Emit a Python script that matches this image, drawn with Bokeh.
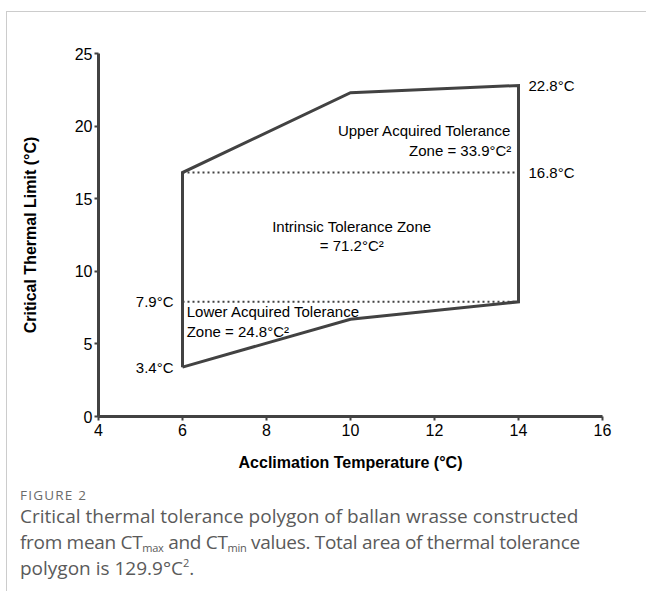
from bokeh.plotting import figure
from bokeh.models import Range1d, FixedTicker, Label, Div, ColumnDataSource
from bokeh.layouts import column
from bokeh.core.properties import value
from bokeh.embed import file_html
from bokeh.resources import INLINE

# ---- data ----
acclimation = [6, 10, 14]
ct_max = [16.8, 22.3, 22.8]
ct_min = [3.4, 6.7, 7.9]
x_ticks = [4, 6, 8, 10, 12, 14, 16]
y_ticks = [0, 5, 10, 15, 20, 25]
zone_texts = ["Upper Acquired Tolerance\nZone = 33.9°C²",
              "Intrinsic Tolerance Zone\n= 71.2°C²",
              "Lower Acquired Tolerance\nZone = 24.8°C²"]
x_title = "Acclimation Temperature (°C)"
y_title = "Critical Thermal Limit (°C)"

DARK = "#424242"
FONT = "Liberation Sans"

p = figure(width=639, height=471, output_backend="svg", toolbar_location=None,
           x_range=Range1d(4, 16), y_range=Range1d(0, 25),
           min_border_left=91, min_border_right=44, min_border_top=41, min_border_bottom=67)
p.outline_line_color = None
p.grid.visible = False
p.background_fill_color = "white"
p.border_fill_color = "white"

for ax, ticks in ((p.xaxis[0], x_ticks), (p.yaxis[0], y_ticks)):
    ax.ticker = FixedTicker(ticks=ticks)
    ax.axis_line_color = DARK
    ax.axis_line_width = 3
    ax.major_tick_line_color = DARK
    ax.major_tick_line_width = 2
    ax.major_tick_out = 4
    ax.major_tick_in = 0
    ax.minor_tick_line_color = None
    ax.major_label_text_font = FONT
    ax.major_label_text_font_size = "16px"
    ax.major_label_text_color = "black"
    ax.axis_label_text_font = FONT
    ax.axis_label_text_font_size = "16px"
    ax.axis_label_text_font_style = "bold"
    ax.axis_label_text_color = "black"

p.xaxis.axis_label = x_title
p.yaxis.axis_label = y_title
p.xaxis.major_label_standoff = 3
p.xaxis.axis_label_standoff = 15
p.yaxis.major_label_standoff = 2
p.yaxis.axis_label_standoff = 33

# polygon outline
poly_x = acclimation + acclimation[::-1] + [acclimation[0]]
poly_y = ct_min + ct_max[::-1] + [ct_min[0]]
p.line(poly_x, poly_y, line_color=DARK, line_width=3, line_join="miter")

# dotted division lines
p.line([acclimation[0], acclimation[-1]], [ct_max[0], ct_max[0]],
       line_color=DARK, line_width=2, line_dash="2 3")
p.line([acclimation[0], acclimation[-1]], [ct_min[-1], ct_min[-1]],
       line_color=DARK, line_width=2, line_dash="2 3")

# value labels
right_src = ColumnDataSource(dict(x=[acclimation[-1], acclimation[-1]],
                                  y=[ct_max[-1], ct_max[0]],
                                  t=[f"{ct_max[-1]}°C", f"{ct_max[0]}°C"]))
left_src = ColumnDataSource(dict(x=[acclimation[0], acclimation[0]],
                                 y=[ct_min[-1], ct_min[0]],
                                 t=[f"{ct_min[-1]}°C", f"{ct_min[0]}°C"]))
p.text(x="x", y="y", text="t", source=right_src, x_offset=10, text_align="left",
       text_baseline="middle", text_font=value(FONT), text_font_size="15px", text_color="black")
p.text(x="x", y="y", text="t", source=left_src, x_offset=-9, text_align="right",
       text_baseline="middle", text_font=value(FONT), text_font_size="15px", text_color="black")

# zone labels
for txt, xx, yy, align in ((zone_texts[0], 13.83, 19.02, "right"),
                           (zone_texts[1], 10.03, 12.42, "center"),
                           (zone_texts[2], 6.10, 6.54, "left")):
    p.add_layout(Label(x=xx, y=yy, text=txt, text_align=align, text_baseline="middle",
                       text_font=FONT, text_font_size="15px", text_color="black",
                       text_line_height=1.15))

sub = "font-size:58%; line-height:1; vertical-align:baseline; position:relative; top:0.3em;"
sup = "font-size:58%; line-height:1; vertical-align:baseline; position:relative; top:-0.7em;"
caption_html = f"""
<div style="font-family:'Open Sans', sans-serif; padding-left:13px; color:#5a5a5a; white-space:nowrap;">
  <div style="font-size:13.5px; line-height:20px; letter-spacing:1.2px; color:#6b6b6b; padding-top:2px;">FIGURE 2</div>
  <div style="font-size:19px; line-height:26px; margin-top:-2px;">Critical thermal tolerance polygon of ballan wrasse constructed<br><span style="letter-spacing:-0.3px;">from mean CT<span style="{sub}">max</span> and CT<span style="{sub}">min</span> values. Total area of thermal tolerance</span><br>polygon is 129.9°C<span style="{sup}">2</span>.</div>
</div>
"""
caption = Div(text=caption_html, width=639, height=108, margin=(0, 0, 0, 0))

layout = column(p, caption, spacing=0,
                styles={"border-top": "1px solid #cccccc", "border-left": "1px solid #cccccc",
                        "margin-left": "6px", "margin-top": "11px"})

open("out.html", "w").write(file_html(layout, INLINE))
